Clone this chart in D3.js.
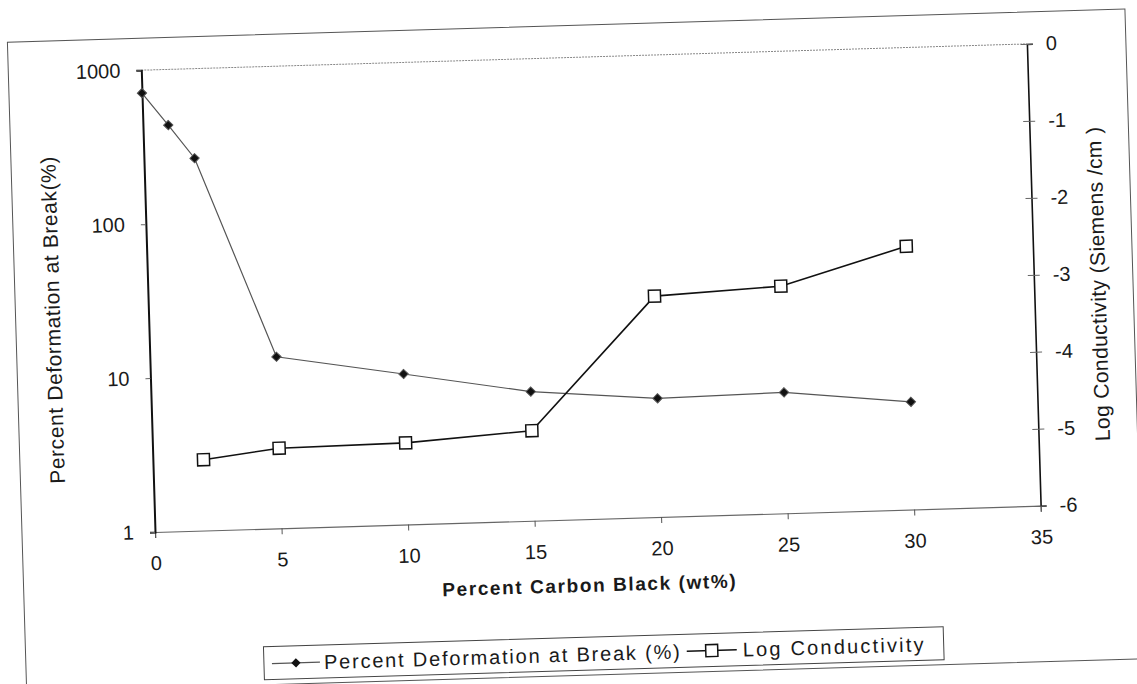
<!DOCTYPE html>
<html><head><meta charset="utf-8">
<script src="https://cdn.jsdelivr.net/npm/d3@7"></script>
<style>
body{margin:0;background:#fff}
svg{display:block}
text{font-family:"Liberation Sans",Arial,sans-serif;fill:#1a1a1a}
</style>
</head><body>
<svg id="chart" width="1137" height="684"></svg>
<script>
// ---- data ----
const deformX = [0, 1, 2, 5, 10, 15, 20, 25, 30];
const deformY = [710, 435, 262, 13, 9.5, 6.9, 5.9, 6.1, 5.0];
const condX = [2, 5, 10, 15, 20, 25, 30];
const condY = [-5.08, -4.96, -4.94, -4.83, -3.13, -3.05, -2.58];
const xTicks = [0, 5, 10, 15, 20, 25, 30, 35];
const leftTicks = [1, 10, 100, 1000];
const rightTicks = [-6, -5, -4, -3, -2, -1, 0];
const seriesNames = ["Percent Deformation at Break (%)", "Log Conductivity"];
const xTitle = "Percent Carbon Black (wt%)";
const leftTitle = "Percent Deformation at Break(%)";
const rightTitle = "Log Conductivity (Siemens /cm )";

const W = 1137, H = 684;
const L = 155, R = 1041, T = 70, B = 532;
const svg = d3.select("#chart");
svg.append("rect").attr("width", W).attr("height", H).attr("fill", "#fff");

// whole scanned page is slightly tilted
const g = svg.append("g").attr("transform", `rotate(-1.7,${L},${B})`);

// outer chart frame
g.append("rect").attr("x", 22).attr("y", 38).attr("width", 1118).attr("height", 650)
  .attr("fill", "none").attr("stroke", "#555").attr("stroke-width", 1);

const x = d3.scaleLinear().domain([0, 35]).range([L, R]);
const yL = d3.scaleLog().domain([1, 1000]).range([B, T]);
const yR = d3.scaleLinear().domain([-6, 0]).range([B, T]);

// plot area top border
g.append("line").attr("x1", L).attr("x2", R).attr("y1", T).attr("y2", T)
  .attr("stroke", "#888").attr("stroke-width", 1).attr("stroke-dasharray", "2,1");

// bottom axis
const ax = g.append("g").attr("transform", `translate(0,${B})`)
  .call(d3.axisBottom(x).tickValues(xTicks).tickSize(6).tickPadding(18).tickFormat(d3.format("d")));
ax.select(".domain").attr("stroke", "#666").attr("stroke-width", 1.2);
ax.selectAll(".tick line").attr("stroke", "#555");
ax.selectAll("text").attr("font-size", 20);

// left axis
const al = g.append("g").attr("transform", `translate(${L},0)`)
  .call(d3.axisLeft(yL).tickValues(leftTicks).tickSize(5).tickPadding(16).tickFormat(d3.format("d")));
al.select(".domain").attr("stroke", "#111").attr("stroke-width", 2);
al.selectAll(".tick line").attr("stroke", "#666");
al.selectAll("text").attr("font-size", 20);

// right axis
const ar = g.append("g").attr("transform", `translate(${R},0)`)
  .call(d3.axisRight(yR).tickValues(rightTicks).tickSize(6).tickPadding(13).tickFormat(d3.format("d")));
ar.select(".domain").attr("stroke", "#111").attr("stroke-width", 1.6);
ar.selectAll(".tick line").attr("x1", -6).attr("stroke", "#666");
ar.selectAll("text").attr("font-size", 20);
ar.selectAll(".tick text").text(d => d === 0 ? "0" : String(d));

// series 1: deformation (log, left)
const d1 = deformX.map((v, i) => [v, deformY[i]]);
g.append("path").datum(d1).attr("fill", "none").attr("stroke", "#555").attr("stroke-width", 1.2)
  .attr("d", d3.line().x(d => x(d[0])).y(d => yL(d[1])));
g.selectAll(".dia").data(d1).join("path").attr("class", "dia")
  .attr("transform", d => `translate(${x(d[0])},${yL(d[1])})`)
  .attr("d", d3.symbol(d3.symbolDiamond2, 55)).attr("fill", "#111").attr("stroke", "#555").attr("stroke-width", 1);

// series 2: conductivity (linear, right)
const d2 = condX.map((v, i) => [v, condY[i]]);
g.append("path").datum(d2).attr("fill", "none").attr("stroke", "#111").attr("stroke-width", 1.6)
  .attr("d", d3.line().x(d => x(d[0])).y(d => yR(d[1])));
g.selectAll(".sq").data(d2).join("rect").attr("class", "sq")
  .attr("x", d => x(d[0]) - 6).attr("y", d => yR(d[1]) - 6).attr("width", 12).attr("height", 12)
  .attr("fill", "#fff").attr("stroke", "#111").attr("stroke-width", 1.5);

// titles
g.append("text").attr("transform", "translate(59,317) rotate(-90)").attr("text-anchor", "middle")
  .attr("dy", "0.35em").attr("font-size", 21).attr("letter-spacing", 0.6).text(leftTitle);
g.append("text").attr("transform", "translate(1105,312) rotate(-90)").attr("text-anchor", "middle")
  .attr("dy", "0.35em").attr("font-size", 21).attr("letter-spacing", 0.4).text(rightTitle);
g.append("text").attr("x", 588).attr("y", 598).attr("text-anchor", "middle").attr("dy", "0.35em")
  .attr("font-size", 19).attr("font-weight", "bold").attr("letter-spacing", 1.6).text(xTitle);

// legend
const lg = g.append("g");
lg.append("rect").attr("x", 260).attr("y", 650).attr("width", 680).attr("height", 33)
  .attr("fill", "#fff").attr("stroke", "#444").attr("stroke-width", 1);
const ly = 667;
lg.append("line").attr("x1", 268).attr("x2", 316).attr("y1", ly).attr("y2", ly).attr("stroke", "#555").attr("stroke-width", 1.2);
lg.append("path").attr("transform", `translate(292,${ly})`).attr("d", d3.symbol(d3.symbolDiamond2, 55)).attr("fill", "#111");
lg.append("text").attr("x", 320).attr("y", ly).attr("dy", "0.35em").attr("font-size", 20)
  .attr("letter-spacing", 1.8).text(seriesNames[0]);
lg.append("line").attr("x1", 683).attr("x2", 733).attr("y1", ly).attr("y2", ly).attr("stroke", "#111").attr("stroke-width", 1.5);
lg.append("rect").attr("x", 702).attr("y", ly - 6).attr("width", 12).attr("height", 12)
  .attr("fill", "#fff").attr("stroke", "#111").attr("stroke-width", 1.5);
lg.append("text").attr("x", 739).attr("y", ly).attr("dy", "0.35em").attr("font-size", 20)
  .attr("letter-spacing", 2.2).text(seriesNames[1]);
</script>
</body></html>
